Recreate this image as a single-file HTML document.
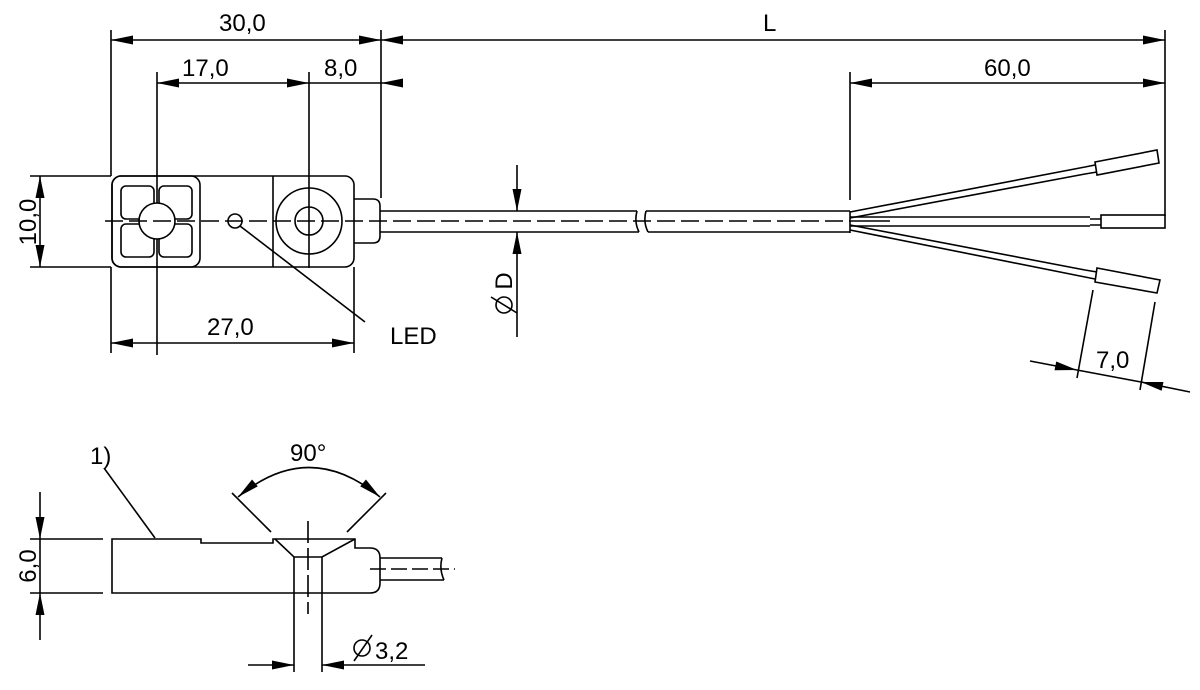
<!DOCTYPE html>
<html><head><meta charset="utf-8"><style>
html,body{margin:0;padding:0;background:#fff}
svg{display:block}
text{font-family:"Liberation Sans",sans-serif;font-size:24px;fill:#000}
</style></head><body>
<svg width="1200" height="690" viewBox="0 0 1200 690" xmlns="http://www.w3.org/2000/svg">
<defs>
<marker id="a" markerUnits="userSpaceOnUse" markerWidth="30" markerHeight="12" refX="0" refY="0" viewBox="-24 -6 26 12" orient="auto-start-reverse">
<path d="M0,0 L-22,-4.5 L-22,4.5 Z" fill="#000"/>
</marker>
</defs>
<g stroke="#000" stroke-width="1.6" fill="none">
<line x1="111" y1="30" x2="111" y2="176"/>
<line x1="381" y1="30" x2="381" y2="198"/>
<line x1="1165" y1="30" x2="1165" y2="216"/>
<line x1="850" y1="72" x2="850" y2="200"/>
<line x1="157" y1="72" x2="157" y2="355"/>
<line x1="309" y1="72" x2="309" y2="268"/>
<line x1="111" y1="267" x2="111" y2="353"/>
<line x1="354" y1="267" x2="354" y2="353"/>
<line x1="30" y1="176" x2="111" y2="176"/>
<line x1="30" y1="267" x2="111" y2="267"/>
<line x1="111" y1="40" x2="381" y2="40" marker-start="url(#a)" marker-end="url(#a)"/>
<line x1="381" y1="40" x2="1165" y2="40" marker-start="url(#a)" marker-end="url(#a)"/>
<line x1="157" y1="83" x2="309" y2="83" marker-start="url(#a)" marker-end="url(#a)"/>
<line x1="309" y1="83" x2="381" y2="83"/>
<line x1="381" y1="83" x2="403" y2="83" marker-start="url(#a)"/>
<line x1="850" y1="83" x2="1165" y2="83" marker-start="url(#a)" marker-end="url(#a)"/>
<line x1="111" y1="343" x2="354" y2="343" marker-start="url(#a)" marker-end="url(#a)"/>
<line x1="40" y1="176" x2="40" y2="267" marker-start="url(#a)" marker-end="url(#a)"/>
<line x1="517" y1="165" x2="517" y2="211" marker-end="url(#a)"/>
<line x1="517" y1="337" x2="517" y2="232" marker-end="url(#a)"/>
<rect x="112" y="176" width="242" height="91" rx="9"/>
<rect x="112" y="176" width="88" height="91" rx="9"/>
<line x1="273" y1="176" x2="273" y2="267"/>
<rect x="121" y="186" width="33" height="33" rx="5"/>
<rect x="159" y="186" width="33" height="33" rx="5"/>
<rect x="121" y="224" width="33" height="33" rx="5"/>
<rect x="159" y="224" width="33" height="33" rx="5"/>
<circle cx="157" cy="221" r="18" fill="#fff"/>
<circle cx="235" cy="221" r="7"/>
<circle cx="309" cy="221" r="33"/>
<circle cx="309" cy="221" r="14"/>
<path d="M354,199 H373 Q380,199 380,206 V236 Q380,243 373,243 H354"/>
<line x1="240" y1="226" x2="365" y2="322"/>
<line x1="105" y1="221" x2="850" y2="221" stroke-dasharray="18,6"/>
<path d="M380,211 H637 M380,232 H639 M646,211 H850 M648,232 H850"/>
<path d="M637,211 Q634,222 639,232 M646,211 Q643,222 648,232"/>
<line x1="850" y1="211" x2="850" y2="233"/>
<path d="M850,212 L1085,167 M850,218 L1085,174 M1085,167 L1095,165 M1085,174 L1097,172"/>
<polygon points="1095,162 1157,150 1159,163 1097,175"/>
<path d="M850,217 H1090 M850,226 H1090 M1090,219 H1101 M1090,225 H1101 M850,221 H890"/>
<rect x="1101" y="215" width="64" height="13"/>
<path d="M850,225 L1085,270 M850,230 L1085,277 M1085,270 L1097,272 M1085,277 L1095,279"/>
<polygon points="1097,268 1160,280 1157,293 1095,282"/>
<line x1="1093" y1="290" x2="1077" y2="378"/>
<line x1="1155" y1="302" x2="1140" y2="390"/>
<line x1="1030" y1="361" x2="1077" y2="370" marker-end="url(#a)"/>
<line x1="1190" y1="392" x2="1141" y2="382" marker-end="url(#a)"/>
<line x1="1077" y1="370" x2="1141" y2="382"/>
<path d="M112,539 H201 V543 H273 V539 H355 V548 H370 Q380,548 380,558 V583 Q380,593 370,593 H112 Z"/>
<path d="M275,539 L294,557 H322 L355,539"/>
<line x1="294" y1="557" x2="294" y2="672"/>
<line x1="322" y1="557" x2="322" y2="672"/>
<line x1="308" y1="521" x2="308" y2="614" stroke-dasharray="22,5"/>
<path d="M380,558 H442 M380,580 H444 M442,558 Q439,569 444,580"/>
<line x1="370" y1="569" x2="455" y2="569" stroke-dasharray="16,5"/>
<line x1="271" y1="532" x2="232" y2="493"/>
<line x1="347" y1="532" x2="386" y2="493"/>
<path d="M238,497 Q309,438 380,497" marker-start="url(#a)" marker-end="url(#a)"/>
<line x1="155" y1="538" x2="104" y2="468"/>
<line x1="30" y1="539" x2="103" y2="539"/>
<line x1="30" y1="593" x2="103" y2="593"/>
<line x1="40" y1="492" x2="40" y2="539" marker-end="url(#a)"/>
<line x1="40" y1="640" x2="40" y2="593" marker-end="url(#a)"/>
<line x1="40" y1="539" x2="40" y2="593"/>
<line x1="248" y1="665" x2="294" y2="665" marker-end="url(#a)"/>
<line x1="425" y1="665" x2="322" y2="665" marker-end="url(#a)"/>
<!-- diameter symbols -->
<circle cx="362" cy="648" r="8"/>
<line x1="354" y1="661" x2="372" y2="635"/>
<circle cx="504" cy="305" r="8"/>
<line x1="491" y1="297" x2="517" y2="313"/>
</g>
<text x="219" y="31">30,0</text>
<text x="763" y="31">L</text>
<text x="182" y="76">17,0</text>
<text x="324" y="76">8,0</text>
<text x="984" y="76">60,0</text>
<text x="207" y="335">27,0</text>
<text x="390" y="344">LED</text>
<text transform="translate(36,222) rotate(-90)" text-anchor="middle">10,0</text>
<text transform="translate(512,281) rotate(-90)" text-anchor="middle">D</text>
<text x="1096" y="368">7,0</text>
<text x="90" y="464">1)</text>
<text x="290" y="461">90°</text>
<text transform="translate(36,566) rotate(-90)" text-anchor="middle">6,0</text>
<text x="375" y="659">3,2</text>
</svg>
</body></html>
